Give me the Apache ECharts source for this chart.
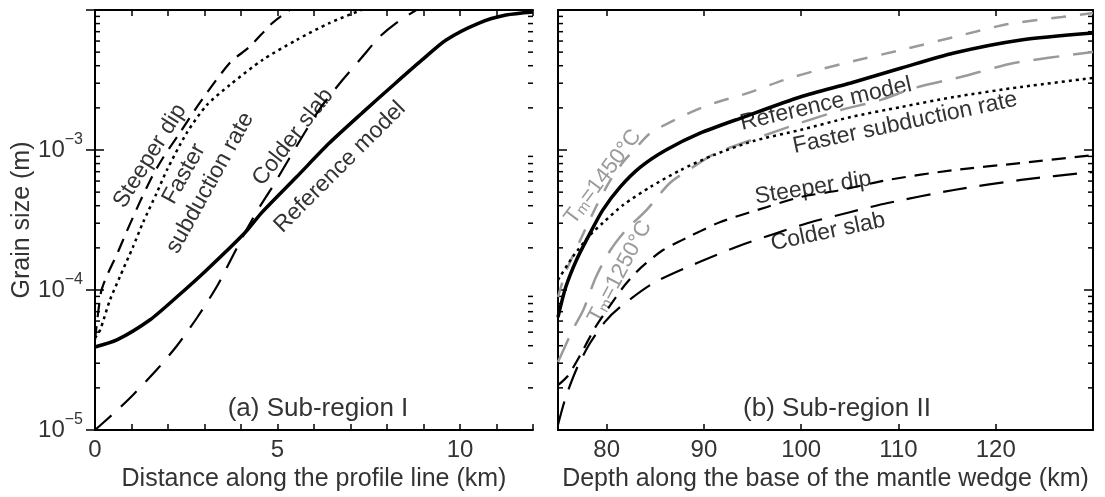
<!DOCTYPE html>
<html>
<head>
<meta charset="utf-8">
<script src="https://cdn.jsdelivr.net/npm/echarts@6/dist/echarts.min.js"></script>
<style>
  html, body { margin: 0; padding: 0; background: #fff; }
  #chart { width: 1105px; height: 497px; }
</style>
</head>
<body>
<div id="chart"></div>
<script>
// 子区域 I：沿剖面线距离 (km) 与粒径 (m)
var leftRefX = [0, 0.6, 1.5, 2.24, 3.06, 4.1, 4.58, 5.52, 6.42, 7.32, 8.2, 8.96, 9.62, 10.52, 11.26, 12];
var leftRefY = [3.92e-5, 4.40e-5, 6.11e-5, 8.91e-5, 1.39e-4, 2.55e-4, 3.6e-4, 6.41e-4, 1.12e-3, 1.84e-3, 2.95e-3, 4.40e-3, 6.11e-3, 8.07e-3, 9.20e-3, 9.68e-3];

var leftDipX = [0, 0.16, 0.3, 0.63, 0.85, 1.23, 1.56, 1.86, 2.32, 2.87, 3.69, 4.23, 4.86, 5.33];
var leftDipY = [4.40e-5, 9.53e-5, 1.22e-4, 1.87e-4, 2.55e-4, 4.26e-4, 6.41e-4, 8.77e-4, 1.32e-3, 2.17e-3, 4.18e-3, 5.45e-3, 8.07e-3, 1.0e-2];

var leftFastX = [0, 0.14, 0.41, 0.68, 1.04, 1.31, 1.69, 1.97, 2.51, 3.06, 3.69, 4.59, 5.52, 6.42, 7.3];
var leftFastY = [4.54e-5, 5.18e-5, 8.49e-5, 1.24e-4, 2.03e-4, 3.01e-4, 4.93e-4, 7.19e-4, 1.32e-3, 2.09e-3, 2.91e-3, 4.40e-3, 6.11e-3, 8.07e-3, 1.0e-2];

var leftColdX = [0, 0.6, 1.04, 1.69, 2.24, 2.79, 3.33, 3.77, 4.15, 4.51, 4.86, 5.33, 5.79, 6.23, 6.78, 7.32, 7.79, 8.25, 8.8];
var leftColdY = [1.0e-5, 1.38e-5, 1.78e-5, 2.69e-5, 3.98e-5, 6.31e-5, 1.05e-4, 1.74e-4, 2.69e-4, 3.92e-4, 5.45e-4, 8.77e-4, 1.39e-3, 2.09e-3, 3.16e-3, 4.61e-3, 6.41e-3, 8.07e-3, 1.0e-2];

// 子区域 II：沿地幔楔底部深度 (km)
var rightRefX = [75, 75.8, 76.9, 78.3, 79.6, 81.4, 83.5, 86.1, 89.6, 94.1, 99.9, 105.1, 110.3, 115.7, 122.6, 130];
var rightRefY = [6.41e-5, 1.05e-4, 1.64e-4, 2.55e-4, 3.72e-4, 5.45e-4, 7.57e-4, 1.0e-3, 1.32e-3, 1.72e-3, 2.39e-3, 3.01e-3, 3.85e-3, 4.93e-3, 6.11e-3, 6.85e-3];

var rightHotX = [75, 75.8, 77.3, 79.0, 80.4, 81.7, 83.1, 84.5, 87.6, 90.4, 94.5, 98.2, 101.7, 105.4, 110.3, 115.7, 121.3, 126.8, 130];
var rightHotY = [8.91e-5, 1.35e-4, 2.28e-4, 4.05e-4, 6.11e-4, 8.20e-4, 1.05e-3, 1.32e-3, 1.72e-3, 2.09e-3, 2.55e-3, 3.16e-3, 3.72e-3, 4.32e-3, 5.18e-3, 6.41e-3, 7.94e-3, 8.91e-3, 9.53e-3];

var rightCoolX = [75, 76.5, 77.6, 78.9, 80.4, 82.0, 84.1, 86.5, 88.9, 91.3, 95.8, 99.9, 104.1, 108.2, 111.6, 116.4, 121.9, 130];
var rightCoolY = [3.06e-5, 5.18e-5, 7.19e-5, 1.24e-4, 1.93e-4, 2.69e-4, 3.72e-4, 5.81e-4, 7.57e-4, 9.53e-4, 1.24e-3, 1.56e-3, 1.93e-3, 2.28e-3, 2.77e-3, 3.32e-3, 4.18e-3, 5.01e-3];

var rightFastX = [75, 76.5, 78.3, 79.6, 81.7, 84.5, 87.6, 91.0, 95.1, 99.9, 105.1, 110.3, 115.7, 122.6, 130];
var rightFastY = [1.18e-4, 1.72e-4, 2.47e-4, 3.01e-4, 4.05e-4, 5.45e-4, 7.19e-4, 9.20e-4, 1.16e-3, 1.39e-3, 1.72e-3, 2.03e-3, 2.39e-3, 2.82e-3, 3.27e-3];

var rightDipX = [75, 76.0, 77.3, 78.8, 80.4, 81.9, 83.5, 85.8, 88.6, 91.7, 96.5, 99.9, 104.1, 108.9, 115.7, 122.6, 130];
var rightDipY = [2.09e-5, 2.43e-5, 3.44e-5, 5.36e-5, 7.82e-5, 1.09e-4, 1.44e-4, 1.93e-4, 2.43e-4, 3.06e-4, 3.92e-4, 4.61e-4, 5.18e-4, 6.11e-4, 7.19e-4, 8.07e-4, 9.20e-4];

var rightColdX = [75, 75.8, 77.0, 78.3, 79.8, 81.4, 84.8, 89.3, 93.8, 97.2, 100.7, 105.1, 108.9, 115.7, 122.6, 130];
var rightColdY = [1.09e-5, 1.72e-5, 2.82e-5, 4.18e-5, 5.90e-5, 7.57e-5, 1.12e-4, 1.56e-4, 2.09e-4, 2.51e-4, 3.01e-4, 3.61e-4, 4.18e-4, 5.18e-4, 6.11e-4, 6.97e-4];

// 刻度
var leftXLabels = [0, 5, 10];
var rightXTicks = [80, 90, 100, 110, 120];
var minorTicks = [2e-5, 3e-5, 4e-5, 5e-5, 6e-5, 7e-5, 8e-5, 9e-5,
  2e-4, 3e-4, 4e-4, 5e-4, 6e-4, 7e-4, 8e-4, 9e-4,
  2e-3, 3e-3, 4e-3, 5e-3, 6e-3, 7e-3, 8e-3, 9e-3];

var FONT = 'Liberation Sans, Arial, Helvetica, sans-serif';
var TXT = '#333';
var GRAY = '#9a9a9a';

function zip(xs, ys) {
  return xs.map(function (x, i) { return [x, ys[i]]; });
}

function curve(xi, data, color, width, type) {
  return {
    type: 'line',
    xAxisIndex: xi,
    yAxisIndex: xi,
    data: data,
    symbol: 'none',
    smooth: 0.25,
    silent: true,
    lineStyle: { color: color, width: width, type: type, cap: 'butt' }
  };
}

// 对数轴次刻度（2..9）
function minorTickSeries(idx, xMin) {
  return {
    type: 'custom',
    xAxisIndex: idx,
    yAxisIndex: idx,
    silent: true,
    clip: false,
    data: minorTicks.map(function (v) { return [xMin, v]; }),
    renderItem: function (params, api) {
      var cs = params.coordSys;
      var y = api.coord([api.value(0), api.value(1)])[1];
      var st = { stroke: '#000', lineWidth: 1.5 };
      return {
        type: 'group',
        children: [
          { type: 'line', shape: { x1: cs.x, y1: y, x2: cs.x + 5, y2: y }, style: st },
          { type: 'line', shape: { x1: cs.x + cs.width - 5, y1: y, x2: cs.x + cs.width, y2: y }, style: st }
        ]
      };
    }
  };
}

function xAxis(grid, pos, min, max, extra) {
  var ax = {
    type: 'value', gridIndex: grid, position: pos, min: min, max: max,
    axisLine: { show: true, onZero: false, lineStyle: { color: '#000', width: 2 } },
    axisTick: { show: true, inside: true, length: 6, lineStyle: { color: '#000', width: 1.5 } },
    axisLabel: { show: false },
    splitLine: { show: false }
  };
  return Object.assign(ax, extra || {});
}

function yAxis(grid, pos, showLabel) {
  return {
    type: 'log', logBase: 10, gridIndex: grid, position: pos, min: 1e-5, max: 1e-2,
    axisLine: { show: true, lineStyle: { color: '#000', width: 2 } },
    axisTick: { show: true, inside: true, length: 9, lineStyle: { color: '#000', width: 1.5 } },
    splitLine: { show: false },
    axisLabel: {
      show: showLabel,
      margin: 12,
      formatter: function (v) {
        var e = Math.round(Math.log10(v));
        if (e >= -2) return '';
        return '{b|10}{s|\u2212' + (-e) + '}';
      },
      rich: {
        b: { fontSize: 24, fontFamily: FONT, color: TXT, lineHeight: 36 },
        s: { fontSize: 16, fontFamily: FONT, color: TXT, lineHeight: 16, verticalAlign: 'top' }
      }
    },
    name: showLabel ? 'Grain size (m)' : '',
    nameLocation: 'middle',
    nameGap: 60,
    nameTextStyle: { fontSize: 25, fontFamily: FONT, color: TXT }
  };
}

function label(text, x, y, deg, size, color) {
  return {
    type: 'text', x: x, y: y, rotation: deg * Math.PI / 180, silent: true,
    style: { text: text, font: size + 'px ' + FONT, fill: color || TXT, align: 'center', verticalAlign: 'middle' }
  };
}

function tmLabel(temp, x, y, deg) {
  return {
    type: 'text', x: x, y: y, rotation: deg * Math.PI / 180, silent: true,
    style: {
      text: '{t|T}{m|m}{t|=' + temp + '\u00b0C}',
      align: 'center', verticalAlign: 'middle',
      rich: {
        t: { fontSize: 22, fontFamily: FONT, fill: GRAY, lineHeight: 22, verticalAlign: 'top' },
        m: { fontSize: 15, fontFamily: FONT, fill: GRAY, lineHeight: 12, verticalAlign: 'bottom' }
      }
    }
  };
}

var chart = echarts.init(document.getElementById('chart'), null, { renderer: 'canvas' });

var option = {
  backgroundColor: '#fff',
  animation: false,
  textStyle: { fontFamily: FONT },
  grid: [
    { left: 95, top: 10, width: 438, height: 420 },
    { left: 558, top: 10, width: 535, height: 420 }
  ],
  xAxis: [
    xAxis(0, 'bottom', 0, 12, {
      interval: 1,
      axisLabel: {
        show: true, margin: 8, fontSize: 24, fontFamily: FONT, color: TXT,
        formatter: function (v) { return leftXLabels.indexOf(v) >= 0 ? String(v) : ''; }
      },
      name: 'Distance along the profile line (km)',
      nameLocation: 'middle', nameGap: 37,
      nameTextStyle: { fontSize: 25, fontFamily: FONT, color: TXT }
    }),
    xAxis(0, 'top', 0, 12, { interval: 1 }),
    xAxis(1, 'bottom', 75, 130, {
      axisTick: { show: true, inside: true, length: 6, customValues: rightXTicks, lineStyle: { color: '#000', width: 1.5 } },
      axisLabel: { show: true, margin: 8, fontSize: 24, fontFamily: FONT, color: TXT, customValues: rightXTicks },
      name: 'Depth along the base of the mantle wedge (km)',
      nameLocation: 'middle', nameGap: 37,
      nameTextStyle: { fontSize: 25, fontFamily: FONT, color: TXT }
    }),
    xAxis(1, 'top', 75, 130, {
      axisTick: { show: true, inside: true, length: 6, customValues: rightXTicks, lineStyle: { color: '#000', width: 1.5 } }
    })
  ],
  yAxis: [
    yAxis(0, 'left', true),
    yAxis(0, 'right', false),
    yAxis(1, 'left', false),
    yAxis(1, 'right', false)
  ],
  series: [
    curve(0, zip(leftColdX, leftColdY), '#000', 2.2, [22, 13]),
    curve(0, zip(leftDipX, leftDipY), '#000', 2.2, [14, 9]),
    curve(0, zip(leftFastX, leftFastY), '#000', 2.5, [3, 4]),
    curve(0, zip(leftRefX, leftRefY), '#000', 3.5, 'solid'),
    minorTickSeries(0, 0),

    curve(2, zip(rightHotX, rightHotY), GRAY, 2.5, [15, 14]),
    curve(2, zip(rightCoolX, rightCoolY), GRAY, 2.5, [26, 14]),
    curve(2, zip(rightColdX, rightColdY), '#000', 2.2, [24, 13]),
    curve(2, zip(rightDipX, rightDipY), '#000', 2.2, [14, 9]),
    curve(2, zip(rightFastX, rightFastY), '#000', 2.5, [3, 4]),
    curve(2, zip(rightRefX, rightRefY), '#000', 3.5, 'solid'),
    minorTickSeries(2, 75)
  ],
  graphic: [
    label('Steeper dip', 150, 156, 58, 23),
    label('Faster', 184, 174, 61, 23),
    label('subduction rate', 210, 183, 61, 23),
    label('Colder slab', 293, 137, 52, 23),
    label('Reference model', 340, 167, 45, 23),
    label('(a) Sub-region I', 318, 409, 0, 26),

    tmLabel('1450', 603, 177, 53),
    tmLabel('1250', 620, 272, 62),
    label('Reference model', 826, 104, 13, 23),
    label('Faster subduction rate', 905, 123, 12, 23),
    label('Steeper dip', 813, 188, 9, 23),
    label('Colder slab', 828, 232, 12, 23),
    label('(b) Sub-region II', 837, 409, 0, 26)
  ]
};

// grid 1 对应 xAxis 2 / yAxis 2
option.series.forEach(function (s) {
  if (s.xAxisIndex === 2) { s.yAxisIndex = 2; }
});

chart.setOption(option);
</script>
</body>
</html>
